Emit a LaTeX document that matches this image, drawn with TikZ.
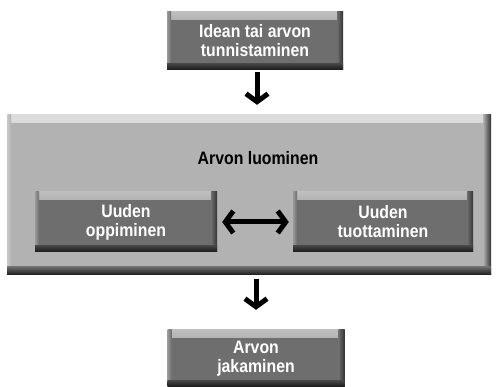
\documentclass[tikz,border=0pt]{standalone}
\usepackage{fontspec}
\setmainfont{Liberation Sans}[FakeStretch=0.88]
\usetikzlibrary{arrows.meta,calc}
\definecolor{darkbox}{HTML}{6E6E6E}
\definecolor{lightbox}{HTML}{B2B2B2}
\tikzset{
  bevel/.style 2 args={fill=#1, path picture={
    \shade[top color=#1!45!white, bottom color=#1] (path picture bounding box.north west) rectangle ([yshift=-8pt]path picture bounding box.north east);
    \shade[left color=#1!70!white, right color=#1] (path picture bounding box.north west) rectangle ([xshift=4pt]path picture bounding box.south west);
    \shade[left color=#1, right color=black!80] ([xshift=-#2]path picture bounding box.north east) rectangle (path picture bounding box.south east);
    \shade[top color=#1!60!black, bottom color=black!90] ([yshift=#2]path picture bounding box.south west) rectangle (path picture bounding box.south east);
  }},
  txt/.style={font=\bfseries\fontsize{18}{19}\selectfont},
  darkbox/.style={bevel={darkbox}{6pt}, text=white, txt, align=center, inner sep=0pt},
  bigbox/.style={bevel={lightbox}{8pt}, inner sep=0pt},
  arr/.style={line width=5pt, -{Straight Barb[length=8pt,width=22pt,line width=5pt]}},
  dblarr/.style={line width=5pt, {Straight Barb[length=8pt,width=22pt,line width=5pt]}-{Straight Barb[length=8pt,width=22pt,line width=5pt]}}
}
\begin{document}
\begin{tikzpicture}[x=1pt,y=-1pt]
\useasboundingbox (0,0) rectangle (496,387);
\node[bigbox, minimum width=484pt, minimum height=160pt] (big) at (249,195) {};
\node[txt] (lbl) at (258,158) {Arvon luominen};
\node[darkbox, minimum width=176pt, minimum height=58pt] (top) at (255,41) {Idean tai arvon\\tunnistaminen};
\node[darkbox, minimum width=182pt, minimum height=60pt] (left) at (126,222) {Uuden\\oppiminen};
\node[darkbox, minimum width=180pt, minimum height=60pt] (right) at (383,222) {Uuden\\tuottaminen};
\node[darkbox, minimum width=177pt, minimum height=57pt] (bot) at (256,358.5) {Arvon\\jakaminen};
\draw[arr, shorten <=2pt, shorten >=10pt] ([xshift=2pt]top.south) -- ([xshift=2pt]top.south |- big.north);
\draw[arr, shorten <=4pt, shorten >=20pt] (big.south -| bot.north) -- (bot.north);
\draw[dblarr, shorten <=5pt, shorten >=4pt] (left.east) -- (right.west);
\end{tikzpicture}
\end{document}
